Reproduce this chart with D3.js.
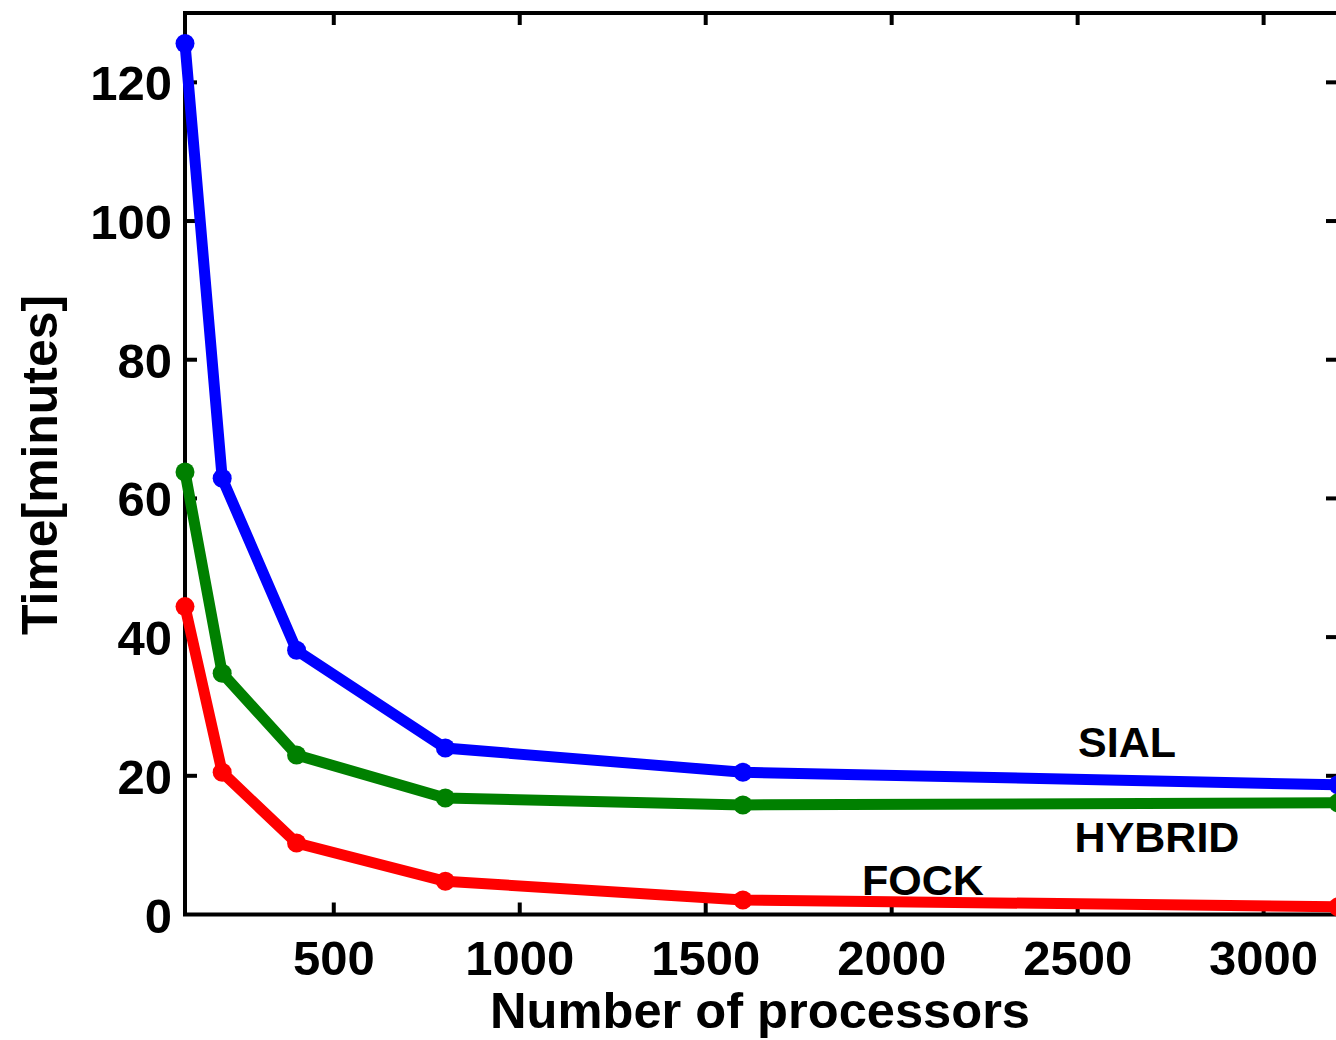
<!DOCTYPE html>
<html>
<head>
<meta charset="utf-8">
<script src="https://cdn.jsdelivr.net/npm/d3@7"></script>
<style>
  html, body { margin: 0; padding: 0; background: #fff; }
  svg { display: block; }
  text { font-family: "Liberation Sans", Arial, Helvetica, sans-serif; font-weight: bold; fill: #000; }
</style>
</head>
<body>
<svg id="chart" width="1336" height="1040"></svg>
<script>
const processors = [100, 200, 400, 800, 1600, 3200];
const sialTimes   = [125.6, 62.9, 38.1, 24.0, 20.5, 18.7];
const hybridTimes = [63.8, 34.8, 23.0, 16.8, 15.8, 16.1];
const fockTimes   = [44.4, 20.5, 10.3, 4.8, 2.1, 1.1];
const seriesNames = ["SIAL", "HYBRID", "FOCK"];
const xTicks = [500, 1000, 1500, 2000, 2500, 3000];
const yTicks = [0, 20, 40, 60, 80, 100, 120];

const svg = d3.select("#chart");
const pLeft = 185, pRight = 1338, pTop = 13, pBottom = 914.5;

const x = d3.scaleLinear().domain([100, 3200]).range([pLeft, pRight]);
const y = d3.scaleLinear().domain([0, 130]).range([pBottom, pTop]);

const series = [
  { name: seriesNames[0], values: sialTimes,   color: "#0000ff", lx: 1127, ly: 757 },
  { name: seriesNames[1], values: hybridTimes, color: "#008000", lx: 1157, ly: 852 },
  { name: seriesNames[2], values: fockTimes,   color: "#ff0000", lx: 923,  ly: 895 }
];

svg.append("rect")
  .attr("x", pLeft).attr("y", pTop)
  .attr("width", pRight - pLeft).attr("height", pBottom - pTop)
  .attr("fill", "none").attr("stroke", "#000").attr("stroke-width", 4);

const tickLen = 12;
const xt = svg.append("g");
xTicks.forEach(t => {
  xt.append("line").attr("x1", x(t)).attr("x2", x(t))
    .attr("y1", pBottom).attr("y2", pBottom - tickLen)
    .attr("stroke", "#000").attr("stroke-width", 4);
  xt.append("line").attr("x1", x(t)).attr("x2", x(t))
    .attr("y1", pTop).attr("y2", pTop + tickLen)
    .attr("stroke", "#000").attr("stroke-width", 4);
  xt.append("text").attr("x", x(t)).attr("y", 975)
    .attr("text-anchor", "middle").attr("font-size", 49).text(t);
});
const yt = svg.append("g");
yTicks.forEach(t => {
  if (t !== 0) {
    yt.append("line").attr("x1", pLeft).attr("x2", pLeft + tickLen)
      .attr("y1", y(t)).attr("y2", y(t))
      .attr("stroke", "#000").attr("stroke-width", 4);
    yt.append("line").attr("x1", pRight).attr("x2", pRight - tickLen)
      .attr("y1", y(t)).attr("y2", y(t))
      .attr("stroke", "#000").attr("stroke-width", 4);
  }
  yt.append("text").attr("x", 172).attr("y", y(t) + 18)
    .attr("text-anchor", "end").attr("font-size", 49).text(t);
});

const line = d3.line().x(d => x(d[0])).y(d => y(d[1]));
series.forEach(s => {
  const pts = processors.map((p, i) => [p, s.values[i]]);
  svg.append("path").datum(pts)
    .attr("d", line)
    .attr("fill", "none").attr("stroke", s.color)
    .attr("stroke-width", 11).attr("stroke-linejoin", "miter");
  svg.append("g").selectAll("circle").data(pts).join("circle")
    .attr("cx", d => x(d[0])).attr("cy", d => y(d[1]))
    .attr("r", 9.5).attr("fill", s.color);
  svg.append("text").attr("x", s.lx).attr("y", s.ly)
    .attr("text-anchor", "middle").attr("font-size", 43).text(s.name);
});

svg.append("text").attr("x", 760).attr("y", 1028)
  .attr("text-anchor", "middle").attr("font-size", 50)
  .attr("textLength", 540).attr("lengthAdjust", "spacingAndGlyphs")
  .text("Number of processors");
svg.append("text")
  .attr("transform", "translate(57,465) rotate(-90)")
  .attr("text-anchor", "middle").attr("font-size", 50)
  .attr("textLength", 340).attr("lengthAdjust", "spacingAndGlyphs")
  .text("Time[minutes]");
</script>
</body>
</html>
